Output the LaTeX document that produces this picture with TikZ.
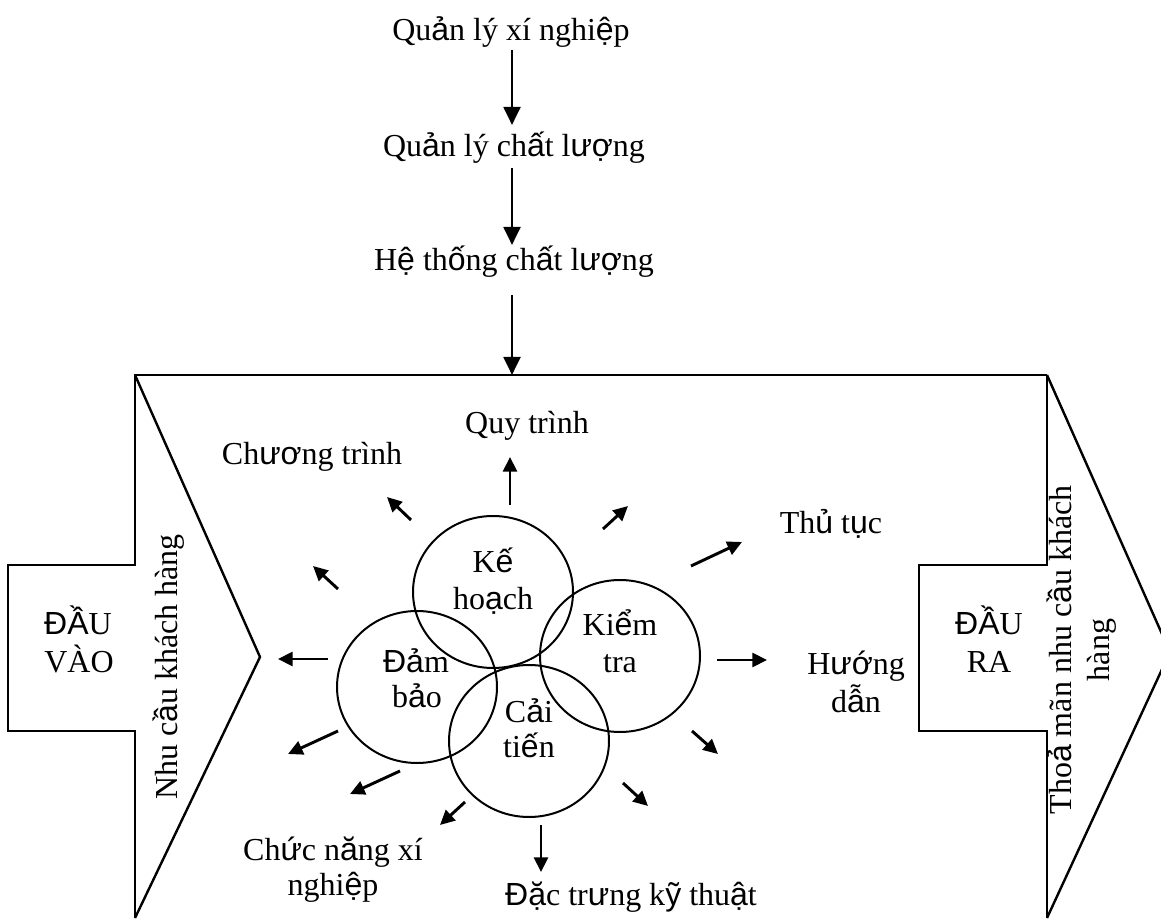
\documentclass[tikz,border=0pt]{standalone}
\usepackage{fontspec}
\setmainfont{Liberation Serif}
\newfontfamily\vnsans{Liberation Sans}
\newcommand\vnA[1]{{\vnsans #1}}
\usetikzlibrary{arrows.meta,shapes.geometric}
\begin{document}
\begin{tikzpicture}[x=0.75pt,y=-0.75pt,
  txt/.style={inner sep=0pt,outer sep=0pt,anchor=base,text height=17pt,text depth=5pt,
              font=\fontsize{24}{27.4}\selectfont},
  outline/.style={line width=1.8pt,line join=miter},
  circ/.style={draw,ellipse,line width=1.5pt,minimum width=120pt,minimum height=114pt,inner sep=0pt},
  bigarr/.style={line width=2.2pt,-{Triangle[length=13.5pt,width=12.5pt]}},
  arr/.style={line width=2.2pt,-{Triangle[length=11pt,width=10.5pt]}},
]
\useasboundingbox (0,0) rectangle (1161,919);
\clip (0,0) rectangle (1161,919);

% outline shapes
\draw[outline] (1047,375) -- (135,375) -- (135,565) -- (8,565) -- (8,731) -- (135,731) -- (135,918);
\draw[outline] (135,375) -- (260,657) -- (135,918);
\draw[outline] (1047,375) -- (1047,565) -- (919,565) -- (919,731) -- (1047,731) -- (1047,918);
\draw[outline] (1047,375) -- (1170,652) -- (1047,918);
\coordinate (topmid) at (512,375);

% top chain
\node[txt] (q1) at (511,41) {Qu\vnA{ả}n lý xí nghi\vnA{ệ}p};
\node[txt] (q2) at (514,157) {Qu\vnA{ả}n lý ch\vnA{ấ}t l\vnA{ượ}ng};
\node[txt] (q3) at (514,271) {H\vnA{ệ} th\vnA{ố}ng ch\vnA{ấ}t l\vnA{ượ}ng};
\draw[bigarr,shorten <=1.7pt,shorten >=7pt] (q1.south -| topmid) -- (q2.north -| topmid);
\draw[bigarr,shorten <=3.2pt,shorten >=2.5pt] (q2.south -| topmid) -- (q3.north -| topmid);
\draw[bigarr,shorten <=13pt] (q3.south -| topmid) -- (topmid);

% circles
\node[circ] (kh) at (493,592) {};
\node[circ] (kt) at (620,656) {};
\node[circ] (db) at (417,687) {};
\node[circ] (ct) at (529,741) {};

\node[txt] (khA) at (493,573) {K\vnA{ế}};
\node[txt] (khB) at (493,610) {ho\vnA{ạ}ch};
\node[txt] (ktA) at (620,636) {Ki\vnA{ể}m};
\node[txt] (ktB) at (620,673) {tra};
\node[txt] (dbA) at (416,672) {\vnA{Đả}m};
\node[txt] (dbB) at (417,708) {b\vnA{ả}o};
\node[txt] (ctA) at (529,722) {C\vnA{ả}i};
\node[txt] (ctB) at (529,758) {ti\vnA{ế}n};

% outer labels
\node[txt] (qt) at (527,434) {Quy trình};
\node[txt] (chtr) at (312,465) {Ch\vnA{ươ}ng trình};
\node[txt] (tt) at (831,534) {Th\vnA{ủ} t\vnA{ụ}c};
\node[txt] (hd1) at (856,675) {H\vnA{ướ}ng};
\node[txt] (hd2) at (856,712) {d\vnA{ẫ}n};
\node[txt] (cn1) at (333,860) {Ch\vnA{ứ}c n\vnA{ă}ng xí};
\node[txt] (cn2) at (333,895) {nghi\vnA{ệ}p};
\node[txt] (dt) at (631,905) {\vnA{Đặ}c tr\vnA{ư}ng k\vnA{ỹ} thu\vnA{ậ}t};

% input / output boxes
\node[txt] (in1) at (78,635) {\vnA{ĐẦ}U};
\node[txt] (in2) at (79,672) {VÀO};
\node[txt] (out1) at (989,635) {\vnA{ĐẦ}U};
\node[txt] (out2) at (989,673) {RA};
\node[txt,rotate=90] (nc) at (177,667) {Nhu c\vnA{ầ}u khách hàng};
\node[txt,rotate=90] (tm1) at (1071,650) {Tho\vnA{ả} mãn nhu c\vnA{ầ}u khách};
\node[txt,rotate=90] (tm2) at (1109,650) {hàng};

% radiating arrows
\coordinate (a1s) at (510,505); \coordinate (a1e) at (510,457);
\coordinate (a2s) at (411,520); \coordinate (a2e) at (387,497);
\coordinate (a3s) at (338,589); \coordinate (a3e) at (313,566);
\coordinate (a4s) at (328,659); \coordinate (a4e) at (278,659);
\coordinate (a5s) at (603,529); \coordinate (a5e) at (628,506);
\coordinate (a6s) at (691,566); \coordinate (a6e) at (742,542);
\coordinate (a7s) at (717,660); \coordinate (a7e) at (767,660);
\coordinate (a8s) at (692,731); \coordinate (a8e) at (718,754);
\coordinate (a9s) at (623,783); \coordinate (a9e) at (648,806);
\coordinate (a10s) at (541,825); \coordinate (a10e) at (541,872);
\coordinate (a11s) at (465,802); \coordinate (a11e) at (440,825);
\coordinate (a12s) at (400,771); \coordinate (a12e) at (350,794);
\coordinate (a13s) at (338,731); \coordinate (a13e) at (288,754);
\foreach \i in {1,...,13} {\draw[arr] (a\i s) -- (a\i e);}
\end{tikzpicture}
\end{document}
